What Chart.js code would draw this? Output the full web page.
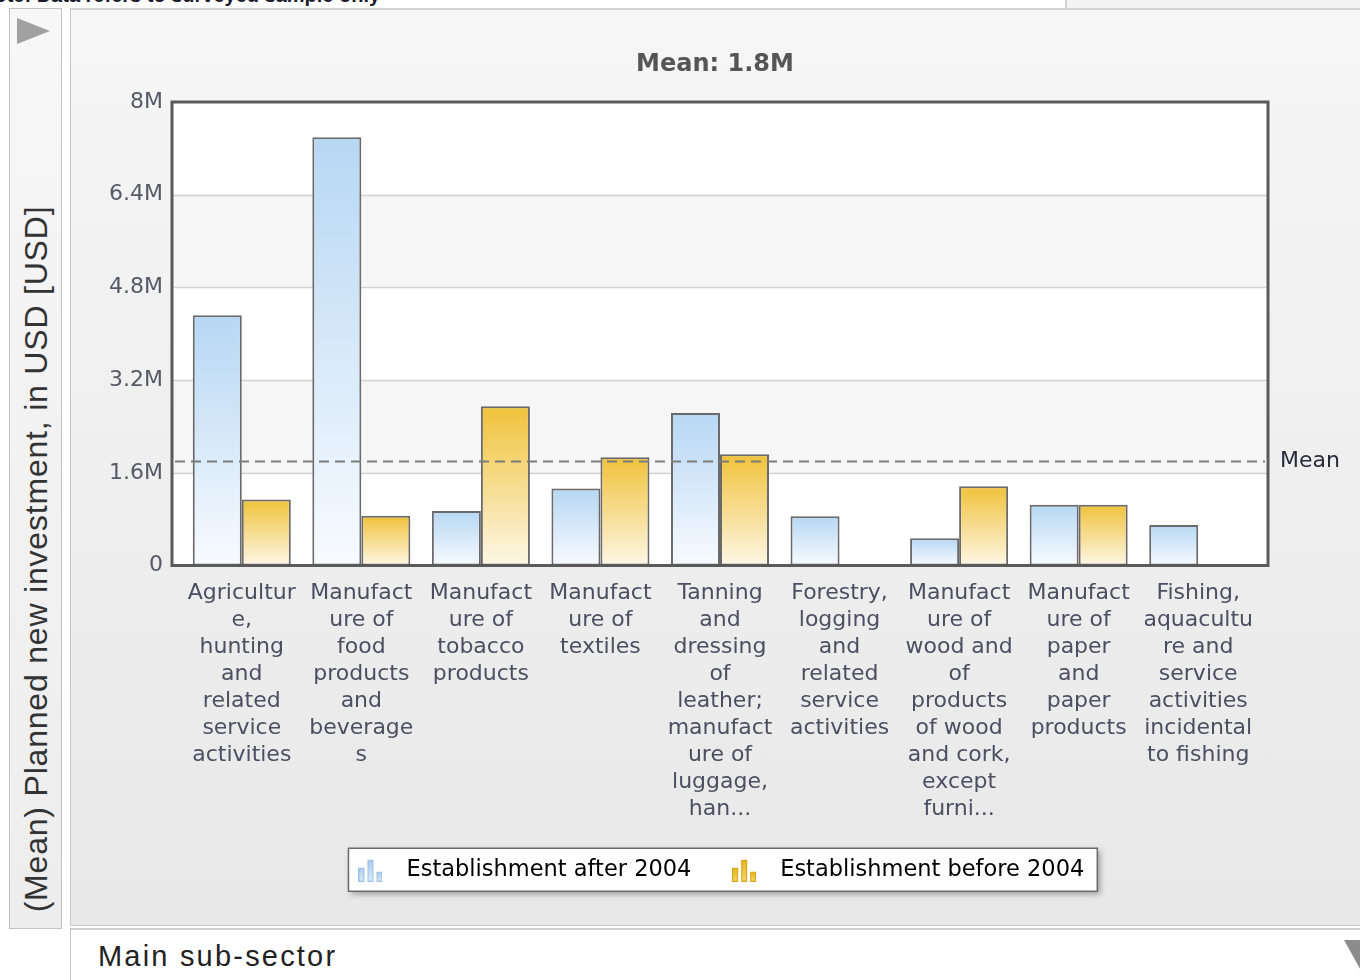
<!DOCTYPE html>
<html>
<head>
<meta charset="utf-8">
<title>Planned new investment by main sub-sector</title>
<script src="https://cdn.jsdelivr.net/npm/chart.js@4.4.0/dist/chart.umd.min.js"></script>
<style>
  body { margin: 0; width: 1360px; height: 980px; overflow: hidden; background: #fff; position: relative; font-family: 'DejaVu Sans', sans-serif; }
  .note { position: absolute; left: 0; top: 0; width: 1065px; height: 8px; overflow: hidden; background: #fff; border-right: 2px solid #d2d2d2; }
  .note span { position: absolute; left: -20px; top: -16px; font: bold 20px 'Liberation Sans', sans-serif; color: #1a1a2a; white-space: nowrap; }
  .strip { position: absolute; left: 1067px; top: 0; right: 0; height: 8px; background: #f4f4f4; }
  .side { position: absolute; left: 9px; top: 8px; width: 51px; height: 919px; border: 1px solid #c2c2c2; background: linear-gradient(#f7f7f7, #ededed); }
  .side .play { position: absolute; left: 7px; top: 9px; width: 0; height: 0; border-left: 33px solid #a0a0a0; border-top: 13px solid transparent; border-bottom: 13px solid transparent; }
  .side .ytitle { position: absolute; left: -327px; top: 530px; width: 710px; height: 40px; line-height: 40px; text-align: center; transform: rotate(-90deg); font: 32px 'Liberation Sans', sans-serif; letter-spacing: 0.8px; color: #333; white-space: nowrap; }
  .main { position: absolute; left: 70px; top: 8px; width: 1300px; height: 915px; border-top: 2px solid #d4d4d4; border-left: 1px solid #c8c8c8; border-bottom: 1px solid #c8c8c8; background: linear-gradient(#f6f6f6, #e8e8e8); }
  .bottom { position: absolute; left: 70px; top: 928px; width: 1300px; height: 60px; border-top: 2px solid #cfcfcf; border-left: 1px solid #c8c8c8; background: #fff; }
  .bottom span { position: absolute; left: 27px; top: 10px; font: 29px 'Liberation Sans', sans-serif; letter-spacing: 2.2px; color: #222; }
  .bottom .drop { position: absolute; left: 1273px; top: 10px; width: 0; height: 0; border-top: 36px solid #8c8c8c; border-left: 20px solid transparent; border-right: 20px solid transparent; }
  #chart { position: absolute; left: 70px; top: 10px; }
</style>
</head>
<body>
<div class="note"><span>Note: Data refers to surveyed sample only</span></div>
<div class="strip"></div>
<div class="side"><div class="play"></div><div class="ytitle">(Mean) Planned new investment, in USD [USD]</div></div>
<div class="main"></div>
<div class="bottom"><span>Main sub-sector</span><div class="drop"></div></div>
<canvas id="chart" width="1290" height="970"></canvas>
<script>
const categories = [
  ['Agricultur', 'e,', 'hunting', 'and', 'related', 'service', 'activities'],
  ['Manufact', 'ure of', 'food', 'products', 'and', 'beverage', 's'],
  ['Manufact', 'ure of', 'tobacco', 'products'],
  ['Manufact', 'ure of', 'textiles'],
  ['Tanning', 'and', 'dressing', 'of', 'leather;', 'manufact', 'ure of', 'luggage,', 'han...'],
  ['Forestry,', 'logging', 'and', 'related', 'service', 'activities'],
  ['Manufact', 'ure of', 'wood and', 'of', 'products', 'of wood', 'and cork,', 'except', 'furni...'],
  ['Manufact', 'ure of', 'paper', 'and', 'paper', 'products'],
  ['Fishing,', 'aquacultu', 're and', 'service', 'activities', 'incidental', 'to fishing']
];
const seriesNames = ['Establishment after 2004', 'Establishment before 2004'];
const after2004 = [4320000, 7390000, 940000, 1330000, 2630000, 850000, 470000, 1050000, 700000];
const before2004 = [1140000, 860000, 2750000, 1870000, 1920000, null, 1370000, 1050000, null];
const meanValue = 1800000;
const yTicks = [0, 1600000, 3200000, 4800000, 6400000, 8000000];

const framePad = 10;

function fmtM(v) {
  if (v === 0) return '0';
  return (v / 1e6).toFixed(1).replace(/\.0$/, '') + 'M';
}

// gradient per bar, dark at the top fading toward the base
function barFill(topColor, baseColor) {
  return (c) => {
    const chart = c.chart;
    if (!chart.chartArea || c.raw == null) return topColor;
    const ys = chart.scales.y;
    const g = chart.ctx.createLinearGradient(0, ys.getPixelForValue(c.raw), 0, ys.getPixelForValue(0));
    g.addColorStop(0, topColor);
    g.addColorStop(1, baseColor);
    return g;
  };
}

// little bar-chart glyphs for the legend
function makeIcon(dark, light, edge) {
  const cv = document.createElement('canvas');
  cv.width = 24; cv.height = 24;
  const x = cv.getContext('2d');
  const bars = [[0, 14], [9, 22], [18, 10]];
  bars.forEach(([bx, h]) => {
    const g = x.createLinearGradient(0, 24 - h, 0, 24);
    g.addColorStop(0, dark); g.addColorStop(1, light);
    x.fillStyle = g;
    x.fillRect(bx, 24 - h, 6, h);
    x.strokeStyle = edge; x.lineWidth = 1;
    x.strokeRect(bx + 0.5, 24 - h + 0.5, 5, h - 1);
  });
  return cv;
}
const legendIcons = [
  makeIcon('#a9cdee', '#dcebf8', '#9cc0e2'),
  makeIcon('#e8b420', '#f3d56e', '#d9a514')
];

const decor = {
  id: 'decor',
  beforeDraw(chart) {
    const {ctx, chartArea: a, scales: {y}} = chart;
    const left = a.left - framePad, right = a.right + framePad;
    ctx.save();
    // alternating bands between grid lines
    for (let i = 0; i < yTicks.length - 1; i++) {
      const y0 = y.getPixelForValue(yTicks[i]), y1 = y.getPixelForValue(yTicks[i + 1]);
      ctx.fillStyle = i % 2 ? '#f6f6f6' : '#ffffff';
      ctx.fillRect(left, y1, right - left, y0 - y1);
    }
    ctx.strokeStyle = '#d2d2d2';
    ctx.lineWidth = 1.5;
    for (let i = 1; i < yTicks.length - 1; i++) {
      const py = Math.round(y.getPixelForValue(yTicks[i])) + 0.5;
      ctx.beginPath(); ctx.moveTo(left, py); ctx.lineTo(right, py); ctx.stroke();
    }
    // legend frame with drop shadow
    const hb = chart.legend.legendHitBoxes;
    if (hb && hb.length) {
      const bw = chart.legend.options.labels.pointStyleWidth;
      const lx = hb[0].left + bw / 2 - 12 - 10;
      const rx = hb[hb.length - 1].left + hb[hb.length - 1].width + 13;
      const cy = hb[0].top + hb[0].height / 2;
      ctx.shadowColor = 'rgba(0,0,0,0.35)';
      ctx.shadowBlur = 6; ctx.shadowOffsetX = 3; ctx.shadowOffsetY = 3;
      ctx.fillStyle = '#fff';
      ctx.fillRect(lx, cy - 21.5, rx - lx, 43);
      ctx.shadowColor = 'transparent';
      ctx.strokeStyle = '#6a6a6a'; ctx.lineWidth = 1.5;
      ctx.strokeRect(lx, cy - 21.5, rx - lx, 43);
    }
    ctx.restore();
  },
  afterDatasetsDraw(chart) {
    const {ctx, chartArea: a, scales: {y}} = chart;
    const left = a.left - framePad, right = a.right + framePad;
    const my = Math.round(y.getPixelForValue(meanValue)) + 0.5;
    ctx.save();
    ctx.strokeStyle = '#7c7c7c';
    ctx.lineWidth = 2;
    ctx.setLineDash([10, 6]);
    ctx.beginPath(); ctx.moveTo(left + 3, my); ctx.lineTo(right - 3, my); ctx.stroke();
    ctx.setLineDash([]);
    ctx.strokeStyle = '#5a5a5a';
    ctx.lineWidth = 3;
    ctx.strokeRect(left, a.top, right - left, a.bottom - a.top);
    ctx.fillStyle = '#2a2a3a';
    ctx.font = '22px "DejaVu Sans"';
    ctx.textBaseline = 'middle';
    ctx.textAlign = 'left';
    ctx.fillText('Mean', right + 12, my);
    ctx.restore();
  }
};

Chart.defaults.font.family = '"DejaVu Sans", Verdana, sans-serif';

new Chart(document.getElementById('chart'), {
  type: 'bar',
  data: {
    labels: categories,
    datasets: [{
      label: seriesNames[0],
      data: after2004,
      backgroundColor: barFill('#b6d7f3', '#f8fbff'),
      borderColor: '#6a6a6a',
      borderWidth: 2,
      borderSkipped: false
    }, {
      label: seriesNames[1],
      data: before2004,
      backgroundColor: barFill('#f0c23a', '#fdf7e6'),
      borderColor: '#6a6a6a',
      borderWidth: 2,
      borderSkipped: false
    }]
  },
  options: {
    responsive: false,
    animation: false,
    categoryPercentage: 0.82,
    barPercentage: 1.0,
    layout: { padding: { top: 0, left: 0, right: 0, bottom: 89 } },
    scales: {
      x: {
        grid: { display: false, drawTicks: false },
        border: { display: false },
        ticks: {
          autoSkip: false, maxRotation: 0, minRotation: 0, padding: 14,
          color: '#4e4e62',
          font: { size: 22, lineHeight: '27px' }
        },
        afterFit(s) { s.height = 265; }
      },
      y: {
        min: 0, max: 8000000,
        grid: { display: false, drawTicks: false },
        border: { display: false },
        afterBuildTicks(s) { s.ticks = yTicks.map(v => ({ value: v })); },
        ticks: {
          padding: 19,
          color: '#555a66',
          font: { size: 22 },
          callback: (v) => fmtM(v)
        },
        afterFit(s) { s.width = 112; }
      },
      yr: {
        position: 'right',
        grid: { display: false, drawTicks: false },
        border: { display: false },
        ticks: { display: false },
        afterFit(s) { s.width = 102; }
      }
    },
    plugins: {
      title: {
        display: true,
        text: 'Mean: ' + fmtM(meanValue),
        color: '#555',
        font: { size: 24, weight: 'bold' },
        padding: { top: 40, bottom: 23.2 }
      },
      legend: {
        position: 'bottom',
        labels: {
          usePointStyle: true,
          pointStyleWidth: 49.5,
          padding: 28,
          color: '#444',
          font: { size: 22.5 },
          generateLabels: (chart) => chart.data.datasets.map((ds, i) => ({
            text: ds.label,
            pointStyle: legendIcons[i],
            fillStyle: 'transparent',
            strokeStyle: 'transparent',
            lineWidth: 0,
            hidden: false,
            datasetIndex: i
          }))
        }
      },
      tooltip: { enabled: false }
    }
  },
  plugins: [decor]
});
</script>
</body>
</html>
